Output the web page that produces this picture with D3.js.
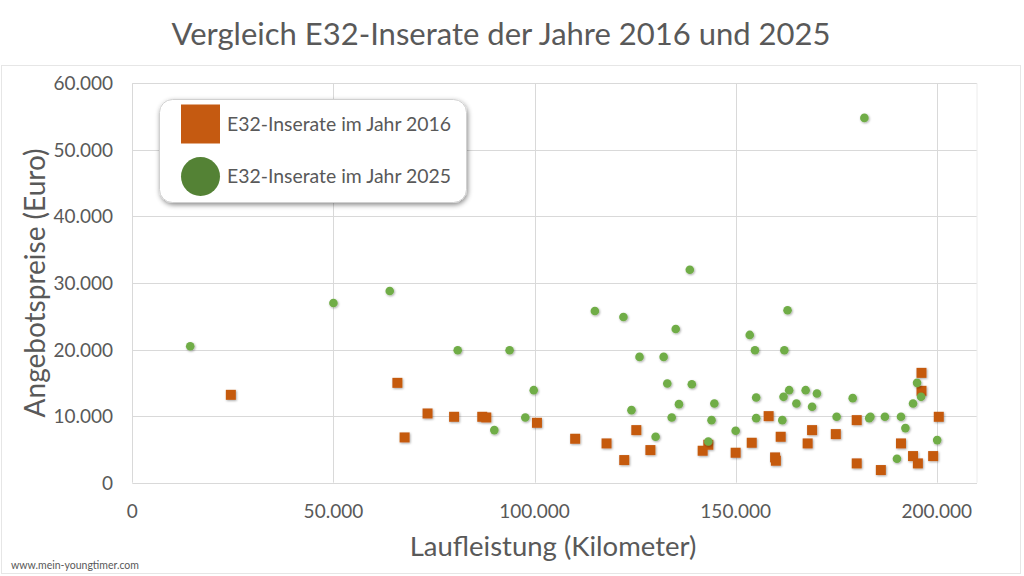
<!DOCTYPE html>
<html lang="de">
  <head>
    <meta charset="utf-8">
    <title>Vergleich E32-Inserate</title>
    <script src="https://cdn.jsdelivr.net/npm/d3@7"></script>
    <style>
      body { margin: 0; background: #fff; }
      text { font-family: Lato, "Open Sans", sans-serif; fill: #595959; }
      .grid line { stroke: #d9d9d9; stroke-width: 1px; }
      .tick-label { font-size: 19px; }
    </style>
  </head>
  <body>
    <svg id="chart" width="1024" height="576"></svg>
    <script>
    // Inserate 2016: Laufleistung (km) und Preis (Euro)
    var km2016 = [24500, 65900, 67700, 73400, 80000, 87000, 88000, 100600, 110100, 117900,
      122300, 125300, 128800, 141800, 143200, 150000, 154000, 158200, 159800, 160000,
      161200, 167900, 169000, 174900, 180100, 180100, 186100, 191100, 194100, 195300,
      196200, 196200, 199100, 200500];
    var price2016 = [13200, 15000, 6800, 10400, 9900, 9900, 9800, 9000, 6600, 5900,
      3400, 7900, 4900, 4800, 5700, 4500, 6000, 10000, 3800, 3300,
      6900, 5900, 7900, 7300, 9400, 2900, 1900, 5900, 4000, 2900,
      16500, 13800, 4000, 9900];

    // Inserate 2025
    var km2025 = [14400, 50000, 64000, 80900, 93800, 99800, 97700, 90000, 115000, 122100,
      124100, 126100, 130100, 132100, 133000, 134100, 135100, 135900, 138600, 139100,
      143200, 144000, 144700, 150000, 153500, 154800, 155100, 155100, 161600, 161900,
      162100, 162900, 163300, 165100, 167400, 169000, 170200, 175100, 179100, 182000,
      183200, 183500, 187100, 190100, 191100, 192200, 194100, 195100, 196100, 200100];
    var price2025 = [20500, 27000, 28800, 19900, 19900, 13900, 9800, 7900, 25800, 24900,
      10900, 18900, 6900, 18900, 14900, 9800, 23100, 11800, 32000, 14800,
      6200, 9400, 11900, 7800, 22200, 19900, 12800, 9700, 9400, 12900,
      19900, 25900, 13900, 11900, 13900, 11400, 13400, 9900, 12700, 54800,
      9700, 9900, 9900, 3600, 9900, 8200, 11900, 15000, 12900, 6400];

    var xTicks = [0, 50000, 100000, 150000, 200000];
    var yTicks = [0, 10000, 20000, 30000, 40000, 50000, 60000];
    var seriesNames = ["E32-Inserate im Jahr 2016", "E32-Inserate im Jahr 2025"];

    var svg = d3.select("#chart");
    var fmt = d3.formatLocale({decimal: ",", thousands: ".", grouping: [3], currency: ["", " €"]}).format(",d");

    var x = d3.scaleLinear().domain([0, 210000]).range([132.3, 977]);
    var y = d3.scaleLinear().domain([0, 60000]).range([482.7, 83.3]);

    var defs = svg.append("defs");
    var f = defs.append("filter").attr("id", "shadow")
      .attr("x", "-50%").attr("y", "-50%").attr("width", "200%").attr("height", "200%");
    f.append("feDropShadow").attr("dx", 0.8).attr("dy", 1).attr("stdDeviation", 0.8)
      .attr("flood-color", "#000").attr("flood-opacity", 0.35);
    var f2 = defs.append("filter").attr("id", "boxshadow")
      .attr("x", "-20%").attr("y", "-30%").attr("width", "140%").attr("height", "160%");
    f2.append("feDropShadow").attr("dx", 1).attr("dy", 2).attr("stdDeviation", 2.5)
      .attr("flood-color", "#000").attr("flood-opacity", 0.45);

    // outer frame
    svg.append("rect").attr("x", 1.5).attr("y", 65.5).attr("width", 1019).attr("height", 508)
      .attr("fill", "none").attr("stroke", "#e6e6e6");

    // title
    svg.append("text").attr("x", 501).attr("y", 45).attr("text-anchor", "middle")
      .style("font-size", "31px").text("Vergleich E32-Inserate der Jahre 2016 und 2025");

    // gridlines
    var grid = svg.append("g").attr("class", "grid");
    grid.selectAll(".h").data(yTicks).enter().append("line")
      .attr("x1", x(0)).attr("x2", x(210000))
      .attr("y1", function(d) { return Math.round(y(d)) + 0.5; })
      .attr("y2", function(d) { return Math.round(y(d)) + 0.5; });
    grid.selectAll(".v").data(xTicks).enter().append("line")
      .attr("y1", y(0)).attr("y2", y(60000))
      .attr("x1", function(d) { return Math.round(x(d)) + 0.5; })
      .attr("x2", function(d) { return Math.round(x(d)) + 0.5; });
    grid.append("line").attr("x1", x(210000)).attr("x2", x(210000))
      .attr("y1", y(0)).attr("y2", y(60000)).style("stroke", "#ececec");

    // tick labels
    svg.append("g").selectAll("text").data(yTicks).enter().append("text")
      .attr("class", "tick-label").attr("x", 113).attr("y", function(d) { return y(d) + 7; })
      .attr("text-anchor", "end").text(function(d) { return fmt(d); });
    svg.append("g").selectAll("text").data(xTicks).enter().append("text")
      .attr("class", "tick-label").attr("x", function(d) { return x(d); }).attr("y", 518)
      .attr("text-anchor", "middle").text(function(d) { return fmt(d); });

    // axis titles
    svg.append("text").attr("x", 553).attr("y", 556).attr("text-anchor", "middle")
      .style("font-size", "27.5px").text("Laufleistung (Kilometer)");
    svg.append("text").attr("transform", "translate(45,283) rotate(-90)")
      .attr("text-anchor", "middle").style("font-size", "28px").text("Angebotspreise (Euro)");

    // points: 2016 first, 2025 drawn on top
    var d2016 = km2016.map(function(k, i) { return [k, price2016[i]]; });
    var d2025 = km2025.map(function(k, i) { return [k, price2025[i]]; });
    svg.append("g").attr("filter", "url(#shadow)").selectAll("rect").data(d2016).enter().append("rect")
      .attr("x", function(d) { return x(d[0]) - 5; })
      .attr("y", function(d) { return y(d[1]) - 5; })
      .attr("width", 10).attr("height", 10)
      .attr("fill", "#c55a11");
    svg.append("g").attr("filter", "url(#shadow)").selectAll("circle").data(d2025).enter().append("circle")
      .attr("cx", function(d) { return x(d[0]); })
      .attr("cy", function(d) { return y(d[1]); })
      .attr("r", 4.3)
      .attr("fill", "#70ad47");

    // legend
    var lg = svg.append("g");
    lg.append("rect").attr("x", 159.5).attr("y", 99.5).attr("width", 307).attr("height", 103)
      .attr("rx", 13).attr("fill", "#fff").attr("stroke", "#d0d0d0").attr("filter", "url(#boxshadow)");
    lg.append("rect").attr("x", 181).attr("y", 104.5).attr("width", 39).attr("height", 39)
      .attr("fill", "#c55a11");
    lg.append("circle").attr("cx", 200.5).attr("cy", 176.5).attr("r", 19.5)
      .attr("fill", "#548235");
    lg.selectAll(".lt").data(seriesNames).enter().append("text")
      .attr("x", 227).attr("y", function(d, i) { return 131 + i * 52; })
      .style("font-size", "19.4px").text(function(d) { return d; });

    // source
    svg.append("text").attr("x", 11).attr("y", 569).style("font-size", "10.5px")
      .text("www.mein-youngtimer.com");
    </script>
  </body>
</html>
